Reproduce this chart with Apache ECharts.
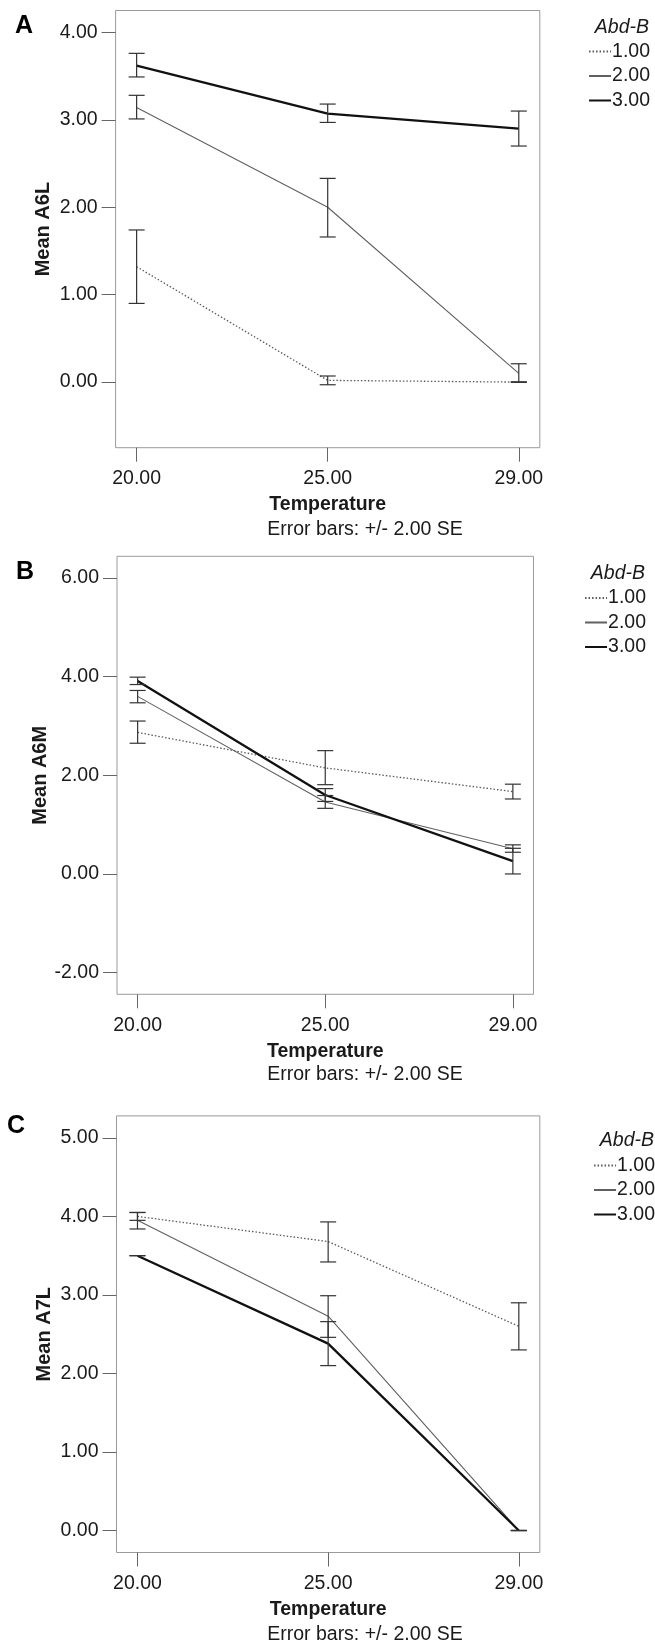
<!DOCTYPE html>
<html>
<head>
<meta charset="utf-8">
<script src="https://cdn.jsdelivr.net/npm/echarts@6/dist/echarts.min.js"></script>
<style>
html,body{margin:0;padding:0;background:#fff;}
#chart{width:655px;height:1643px;}
</style>
</head>
<body>
<div id="chart"></div>
<script>
// ---------- data ----------
const temperatures = ['20.00', '25.00', '29.00'];
const groupNames = ['1.00', '2.00', '3.00'];

// Panel A: Mean A6L
const a6lMean1 = [1.32, 0.02, 0.00];
const a6lLow1  = [0.90, -0.03, 0.00];
const a6lHigh1 = [1.74, 0.07, 0.00];
const a6lMean2 = [3.14, 2.00, 0.10];
const a6lLow2  = [3.01, 1.66, 0.00];
const a6lHigh2 = [3.28, 2.33, 0.21];
const a6lMean3 = [3.62, 3.07, 2.90];
const a6lLow3  = [3.49, 2.97, 2.70];
const a6lHigh3 = [3.76, 3.18, 3.10];

// Panel B: Mean A6M
const a6mMean1 = [2.87, 2.15, 1.67];
const a6mLow1  = [2.65, 1.81, 1.52];
const a6mHigh1 = [3.10, 2.50, 1.82];
const a6mMean2 = [3.60, 1.46, 0.51];
const a6mLow2  = [3.47, 1.33, 0.44];
const a6mHigh2 = [3.72, 1.59, 0.59];
const a6mMean3 = [3.91, 1.60, 0.26];
const a6mLow3  = [3.84, 1.47, 0.00];
const a6mHigh3 = [3.99, 1.73, 0.52];

// Panel C: Mean A7L
const a7lMean1 = [4.00, 3.68, 2.60];
const a7lLow1  = [3.95, 3.42, 2.30];
const a7lHigh1 = [4.05, 3.93, 2.90];
const a7lMean2 = [3.95, 2.73, 0.00];
const a7lLow2  = [3.84, 2.46, 0.00];
const a7lHigh2 = [4.05, 2.99, 0.00];
const a7lMean3 = [3.50, 2.38, 0.00];
const a7lLow3  = [3.50, 2.10, 0.00];
const a7lHigh3 = [3.50, 2.66, 0.00];

// tick values
const xTickIdx = [0, 1, 2];
const yTicksA = [0, 1, 2, 3, 4];
const yTicksB = [-2, 0, 2, 4, 6];
const yTicksC = [0, 1, 2, 3, 4, 5];

// ---------- styling ----------
const FONT = "'Liberation Sans', Arial, Helvetica, sans-serif";
const TXT = '#1a1a1a';
const lineStyles = [
  { color: '#5a5a5a', width: 1.3, type: [1.5, 2] },
  { color: '#606060', width: 1.1, type: 'solid' },
  { color: '#111111', width: 2.3, type: 'solid' }
];

const panels = [
  { name: 'Mean A6L', grid: { left: 115.6, top: 10.5, width: 424.2, height: 437.2 },
    ymin: -0.75, ymax: 4.25, yticks: yTicksA, nameGap: 62,
    means: [a6lMean1, a6lMean2, a6lMean3], lows: [a6lLow1, a6lLow2, a6lLow3], highs: [a6lHigh1, a6lHigh2, a6lHigh3] },
  { name: 'Mean A6M', grid: { left: 117, top: 556.3, width: 416.5, height: 438 },
    ymin: -2.44, ymax: 6.44, yticks: yTicksB, nameGap: 67,
    means: [a6mMean1, a6mMean2, a6mMean3], lows: [a6mLow1, a6mLow2, a6mLow3], highs: [a6mHigh1, a6mHigh2, a6mHigh3] },
  { name: 'Mean A7L', grid: { left: 116.5, top: 1115.9, width: 423.3, height: 436.6 },
    ymin: -0.28, ymax: 5.28, yticks: yTicksC, nameGap: 62,
    means: [a7lMean1, a7lMean2, a7lMean3], lows: [a7lLow1, a7lLow2, a7lLow3], highs: [a7lHigh1, a7lHigh2, a7lHigh3] }
];

const grids = [], xAxes = [], yAxes = [], series = [];
panels.forEach((p, i) => {
  grids.push(Object.assign({ show: true, borderColor: '#9a9a9a', borderWidth: 1, backgroundColor: '#fff' }, p.grid));
  xAxes.push({
    type: 'value', gridIndex: i, min: -0.11, max: 2.11,
    axisLine: { show: false, onZero: false }, splitLine: { show: false },
    axisTick: { show: true, length: 14, customValues: xTickIdx, lineStyle: { color: '#666' } },
    axisLabel: { show: true, customValues: xTickIdx, margin: 21, fontSize: 19.5, fontFamily: FONT, color: TXT,
      formatter: v => temperatures[Math.round(v)] },
    name: 'Temperature', nameLocation: 'middle', nameGap: 47, nameMoveOverlap: false,
    nameTextStyle: { fontSize: 19.5, fontWeight: 'bold', fontFamily: FONT, color: TXT }
  });
  yAxes.push({
    type: 'value', gridIndex: i, min: p.ymin, max: p.ymax,
    axisLine: { show: false, onZero: false }, splitLine: { show: false },
    axisTick: { show: true, length: 14, customValues: p.yticks, lineStyle: { color: '#666' } },
    axisLabel: { show: true, customValues: p.yticks, margin: 18, fontSize: 19.5, fontFamily: FONT, color: TXT,
      formatter: v => v.toFixed(2) },
    name: p.name, nameLocation: 'middle', nameGap: p.nameGap, nameRotate: 90, nameMoveOverlap: false,
    nameTextStyle: { fontSize: 20, fontWeight: 'bold', fontFamily: FONT, color: TXT }
  });
  for (let s = 0; s < 3; s++) {
    series.push({
      type: 'line', name: groupNames[s], xAxisIndex: i, yAxisIndex: i,
      symbol: 'none', showSymbol: false, silent: true, animation: false,
      lineStyle: lineStyles[s], itemStyle: { color: lineStyles[s].color },
      data: p.means[s].map((v, k) => [k, v]), z: 3
    });
    series.push({
      type: 'custom', name: 'err' + i + s, xAxisIndex: i, yAxisIndex: i, silent: true, animation: false,
      data: p.lows[s].map((lo, k) => [k, lo, p.highs[s][k]]),
      renderItem: (params, api) => {
        const x = api.value(0);
        const top = api.coord([x, api.value(2)]);
        const bot = api.coord([x, api.value(1)]);
        const hw = 8;
        const st = { stroke: '#333', lineWidth: 1.2 };
        return { type: 'group', children: [
          { type: 'line', shape: { x1: top[0], y1: top[1], x2: bot[0], y2: bot[1] }, style: st },
          { type: 'line', shape: { x1: top[0] - hw, y1: top[1], x2: top[0] + hw, y2: top[1] }, style: st },
          { type: 'line', shape: { x1: bot[0] - hw, y1: bot[1], x2: bot[0] + hw, y2: bot[1] }, style: st }
        ]};
      },
      z: 4
    });
  }
});

const legendTops = [41.5, 588, 1155.5];
const legendRights = [5, 9, 0];
const legendTitleTops = [17.5, 564, 1130.5];
const panelLetters = [['A', 15, 14], ['B', 16, 560], ['C', 7, 1114]];
const errTextY = [529.5, 1074.5, 1634.5];

const legends = legendTops.map((t, i) => ({
  top: t, right: legendRights[i], orient: 'vertical', padding: 0,
  itemWidth: 22, itemHeight: 10, itemGap: 4.5, selectedMode: false,
  itemStyle: { opacity: 0 },
  textStyle: { fontSize: 19.5, fontFamily: FONT, color: TXT, padding: [0, 0, 0, -4] },
  data: groupNames
}));

const titles = [];
legendTitleTops.forEach((t, i) => titles.push({
  text: 'Abd-B', top: t, right: legendRights[i] + 1, padding: 0,
  textStyle: { fontSize: 19.5, fontStyle: 'italic', fontWeight: 'normal', fontFamily: FONT, color: TXT }
}));
panelLetters.forEach(l => titles.push({
  text: l[0], left: l[1], top: l[2], padding: 0,
  textStyle: { fontSize: 25, fontWeight: 'bold', fontFamily: FONT, color: '#000' }
}));

const graphics = errTextY.map(y => ({
  type: 'text', x: 365, y: y,
  style: { text: 'Error bars: +/- 2.00 SE', fill: TXT, font: '19.5px ' + FONT, textAlign: 'center', textVerticalAlign: 'middle' }
}));

const chart = echarts.init(document.getElementById('chart'), null, { renderer: 'canvas' });
chart.setOption({
  animation: false,
  backgroundColor: '#fff',
  title: titles,
  legend: legends,
  grid: grids,
  xAxis: xAxes,
  yAxis: yAxes,
  graphic: graphics,
  series: series
});
</script>
</body>
</html>
